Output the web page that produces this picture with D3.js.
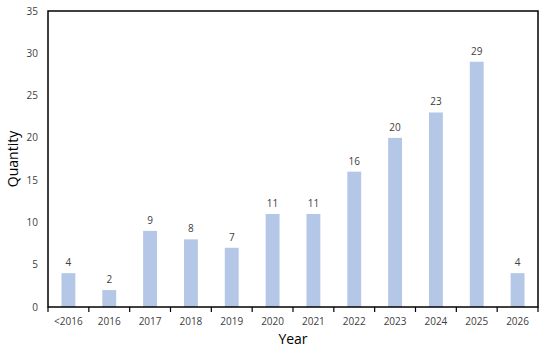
<!DOCTYPE html>
<html>
<head>
<meta charset="utf-8">
<script src="https://cdn.jsdelivr.net/npm/d3@7"></script>
<style>
  body { margin: 0; background: #fff; }
  text { font-family: "Open Sans", "Noto Sans", sans-serif; }
</style>
</head>
<body>
<div id="chart"></div>
<script>
  const years = ["<2016", "2016", "2017", "2018", "2019", "2020", "2021", "2022", "2023", "2024", "2025", "2026"];
  const quantities = [4, 2, 9, 8, 7, 11, 11, 16, 20, 23, 29, 4];
  const yTicks = [0, 5, 10, 15, 20, 25, 30, 35];

  const width = 550;
  const height = 352;
  const margin = { top: 11, right: 12, bottom: 45, left: 48 };
  const plotW = width - margin.left - margin.right;
  const plotH = height - margin.top - margin.bottom;

  const barColor = "#b4c7e7";
  const textColor = "#404040";

  const svg = d3.select("#chart")
    .append("svg")
    .attr("width", width)
    .attr("height", height);

  const graph = svg.append("g")
    .attr("transform", `translate(${margin.left}, ${margin.top})`);

  const x = d3.scaleBand()
    .domain(years)
    .range([0, plotW])
    .paddingInner(0.66)
    .paddingOuter(0.33);

  const y = d3.scaleLinear()
    .domain([0, 35])
    .range([plotH, 0]);

  // bars
  graph.selectAll("rect.bar")
    .data(years)
    .enter()
    .append("rect")
    .attr("class", "bar")
    .attr("x", d => x(d))
    .attr("width", x.bandwidth())
    .attr("y", (d, i) => y(quantities[i]))
    .attr("height", (d, i) => plotH - y(quantities[i]))
    .attr("fill", barColor);

  // value labels
  graph.selectAll("text.value")
    .data(years)
    .enter()
    .append("text")
    .attr("class", "value")
    .attr("x", d => x(d) + x.bandwidth() / 2)
    .attr("y", (d, i) => y(quantities[i]) - 7)
    .attr("text-anchor", "middle")
    .style("font-size", "10px")
    .style("fill", textColor)
    .text((d, i) => quantities[i]);

  // y tick labels (no tick marks)
  graph.selectAll("text.ytick")
    .data(yTicks)
    .enter()
    .append("text")
    .attr("class", "ytick")
    .attr("x", -10)
    .attr("y", d => y(d))
    .attr("dy", "0.35em")
    .attr("text-anchor", "end")
    .style("font-size", "10px")
    .style("fill", textColor)
    .text(d => d);

  // x axis ticks at category boundaries
  const boundaries = d3.range(years.length + 1).map(i => i * plotW / years.length);
  graph.selectAll("line.xtick")
    .data(boundaries)
    .enter()
    .append("line")
    .attr("x1", d => d)
    .attr("x2", d => d)
    .attr("y1", plotH)
    .attr("y2", plotH + 5)
    .attr("stroke", "#000")
    .attr("stroke-width", 1.2);

  graph.selectAll("text.xtick")
    .data(years)
    .enter()
    .append("text")
    .attr("class", "xtick")
    .attr("x", d => x(d) + x.bandwidth() / 2)
    .attr("y", plotH + 14)
    .attr("dy", "0.35em")
    .attr("text-anchor", "middle")
    .style("font-size", "10px")
    .style("fill", textColor)
    .text(d => d);

  // frame
  graph.append("rect")
    .attr("x", 0)
    .attr("y", 0)
    .attr("width", plotW)
    .attr("height", plotH)
    .attr("fill", "none")
    .attr("stroke", "#000")
    .attr("stroke-width", 1.5);

  // axis titles
  svg.append("text")
    .attr("x", margin.left + plotW / 2)
    .attr("y", height - 8)
    .attr("text-anchor", "middle")
    .style("font-size", "14px")
    .style("fill", "#000")
    .text("Year");

  svg.append("text")
    .attr("transform", `translate(18, ${margin.top + plotH / 2}) rotate(-90)`)
    .attr("text-anchor", "middle")
    .style("font-size", "14px")
    .style("fill", "#000")
    .text("Quantity");
</script>
</body>
</html>
